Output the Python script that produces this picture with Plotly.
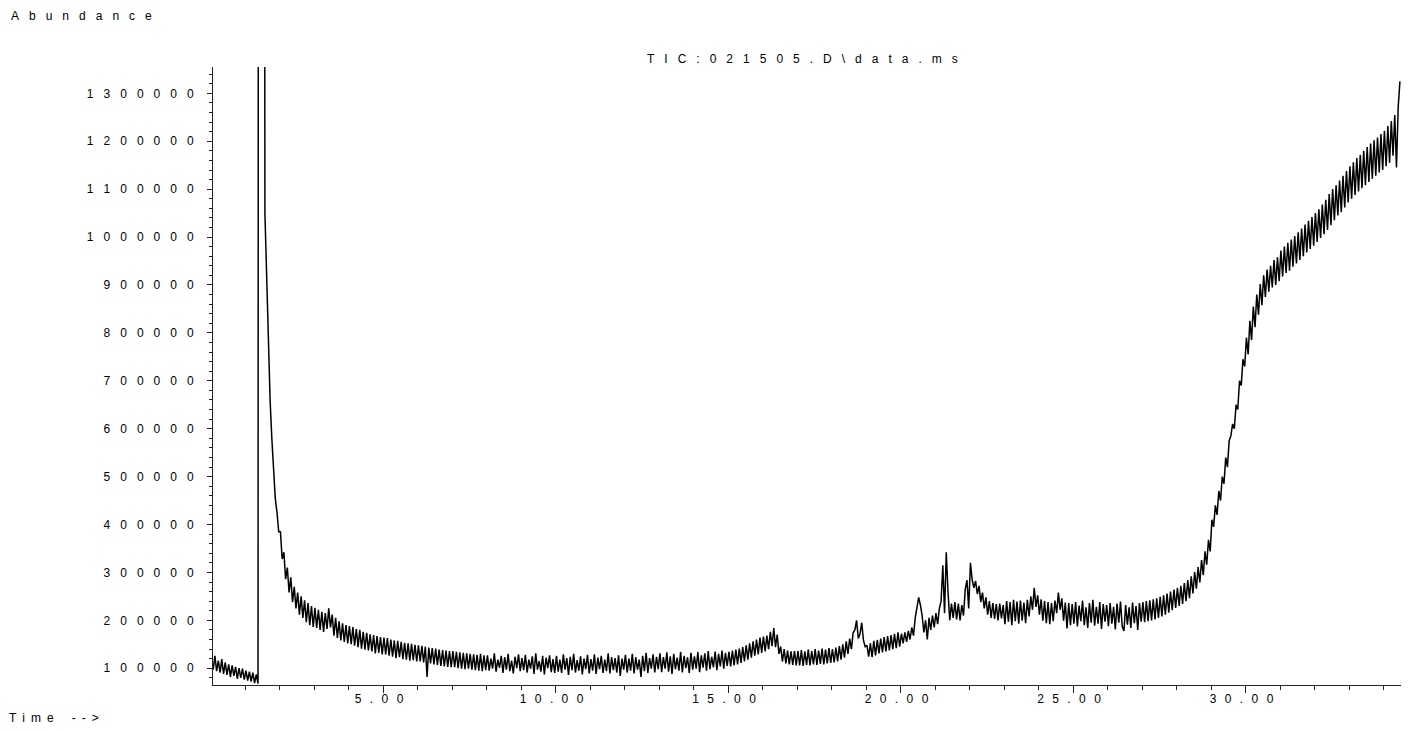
import plotly.graph_objects as go

# ---- data: TIC abundance (in thousands), every 0.05 min from 0.02 min ----
TIME_START = 0.02
TIME_STEP = 0.05
abundance_k = [
    # 0.02 - 0.97
    124, 97, 126, 94, 116, 91, 119, 88, 112, 86,
    108, 82, 106, 84, 103, 78, 100, 80, 99, 76,
    # 1.02 - 1.97
    95, 74, 93, 72, 91, 69, 87, 68, 9000, 9000,
    5000, 1050, 900, 780, 660, 580, 515, 455, 425, 385,
    # 2.02 - 2.97
    385, 328, 342, 286, 310, 258, 290, 238, 270, 225,
    258, 212, 250, 205, 242, 196, 236, 190, 230, 186,
    # 3.02 - 3.97
    226, 184, 222, 180, 218, 176, 215, 182, 225, 185,
    212, 168, 205, 163, 198, 158, 194, 155, 190, 152,
    # 4.02 - 4.97
    188, 150, 186, 147, 182, 144, 180, 141, 176, 139,
    174, 137, 171, 135, 169, 131, 167, 132, 165, 129,
    # 5.02 - 5.97
    164, 129, 163, 126, 160, 124, 158, 121, 157, 123,
    155, 119, 153, 118, 152, 116, 151, 117, 149, 114,
    # 6.02 - 6.97
    148, 114, 147, 112, 145, 82, 143, 110, 142, 108,
    141, 107, 139, 105, 138, 104, 137, 103, 136, 102,
    # 7.02 - 7.97
    136, 102, 134, 100, 133, 99, 132, 98, 131, 99,
    130, 97, 129, 96, 128, 95, 130, 94, 127, 96,
    # 8.02 - 8.97
    127, 95, 120, 99, 131, 93, 118, 101, 126, 90,
    123, 97, 130, 94, 116, 89, 124, 100, 129, 94,
    # 9.02 - 9.97
    121, 96, 128, 91, 118, 99, 125, 88, 131, 97,
    115, 93, 126, 87, 122, 100, 127, 92, 119, 90,
    # 10.02 - 10.97
    126, 93, 118, 90, 129, 97, 121, 86, 124, 96,
    130, 91, 117, 95, 125, 87, 120, 98, 128, 89,
    # 11.02 - 11.97
    119, 95, 129, 88, 122, 98, 126, 90, 118, 94,
    131, 89, 123, 96, 121, 91, 127, 84, 120, 97,
    # 12.02 - 12.97
    128, 91, 120, 95, 130, 89, 123, 97, 118, 82,
    126, 94, 132, 90, 121, 99, 129, 91, 124, 98,
    # 13.02 - 13.97
    131, 92, 123, 99, 133, 93, 125, 88, 130, 98,
    122, 95, 134, 91, 126, 100, 123, 90, 132, 97,
    # 14.02 - 14.97
    125, 99, 134, 92, 127, 101, 131, 95, 136, 98,
    124, 102, 135, 96, 130, 104, 137, 99, 132, 105,
    # 15.02 - 15.97
    134, 104, 137, 106, 139, 108, 141, 111, 144, 114,
    148, 118, 152, 122, 156, 126, 160, 129, 164, 132,
    # 16.02 - 16.97
    166, 135, 168, 140, 176, 146, 184, 144, 170, 130,
    145, 114, 140, 110, 137, 108, 135, 107, 136, 106,
    # 17.02 - 17.97
    136, 106, 138, 105, 135, 107, 139, 106, 136, 108,
    140, 107, 137, 109, 141, 108, 139, 110, 142, 111,
    # 18.02 - 18.97
    140, 112, 143, 114, 146, 118, 150, 122, 156, 130,
    162, 140, 174, 180, 200, 162, 172, 195, 158, 145,
    # 19.02 - 19.97
    148, 124, 152, 123, 157, 127, 159, 131, 162, 133,
    165, 135, 167, 137, 169, 140, 172, 142, 175, 145,
    # 20.02 - 20.97
    172, 152, 175, 155, 178, 160, 185, 168, 205, 225,
    248, 232, 210, 175, 200, 160, 205, 180, 210, 185,
    # 21.02 - 21.97
    215, 192, 225, 240, 315, 215, 342, 260, 200, 235,
    205, 238, 202, 235, 200, 232, 210, 265, 284, 225,
    # 22.02 - 22.97
    320, 285, 268, 282, 255, 272, 238, 258, 225, 248,
    212, 240, 205, 236, 203, 234, 200, 235, 204, 232,
    # 23.02 - 23.97
    192, 240, 197, 238, 190, 243, 198, 239, 193, 241,
    199, 237, 194, 243, 208, 250, 222, 268, 228, 252,
    # 24.02 - 24.97
    212, 244, 199, 240, 194, 238, 192, 236, 198, 241,
    215, 258, 222, 246, 199, 237, 183, 236, 190, 234,
    # 25.02 - 25.97
    193, 238, 187, 231, 198, 241, 190, 227, 184, 236,
    195, 243, 189, 228, 193, 238, 182, 234, 197, 232,
    # 26.02 - 26.97
    188, 236, 193, 228, 181, 235, 195, 239, 187, 178,
    232, 191, 227, 184, 237, 194, 230, 180, 236, 197,
    # 27.02 - 27.97
    238, 196, 240, 198, 242, 200, 244, 202, 246, 205,
    249, 208, 252, 212, 256, 216, 260, 221, 264, 226,
    # 28.02 - 28.97
    268, 230, 272, 234, 278, 240, 284, 246, 292, 256,
    301, 266, 311, 279, 326, 294, 344, 316, 368, 344,
    # 29.02 - 29.97
    410, 395, 440, 420, 470, 450, 500, 485, 540, 520,
    575, 585, 610, 600, 650, 640, 700, 690, 745, 730,
    # 30.02 - 30.97
    790, 755, 825, 785, 855, 812, 880, 838, 902, 858,
    920, 875, 932, 886, 940, 895, 952, 900, 958, 908,
    # 31.02 - 31.97
    972, 918, 980, 925, 988, 930, 995, 938, 1002, 945,
    1010, 952, 1018, 960, 1026, 968, 1034, 975, 1042, 982,
    # 32.02 - 32.97
    1050, 990, 1058, 998, 1068, 1006, 1078, 1015, 1090, 1025,
    1100, 1035, 1108, 1045, 1118, 1052, 1128, 1062, 1138, 1072,
    # 33.02 - 33.97
    1148, 1080, 1156, 1088, 1165, 1095, 1172, 1102, 1180, 1108,
    1188, 1115, 1195, 1122, 1202, 1128, 1208, 1135, 1215, 1140,
    # 34.02 - 34.47
    1222, 1148, 1232, 1155, 1242, 1170, 1255, 1145, 1272, 1325,
]
times = [round(TIME_START + TIME_STEP * i, 2) for i in range(len(abundance_k))]
abundance = [v * 1000 for v in abundance_k]

x_tick_vals = [5, 10, 15, 20, 25, 30]
x_tick_labels = ["5.00", "10.00", "15.00", "20.00", "25.00", "30.00"]
y_tick_vals = [100000 * k for k in range(1, 14)]
y_tick_labels = [str(v) for v in y_tick_vals]

title_text = "TIC: 021505.D\\data.ms"
y_title = "Abundance"
x_title = "Time -->"

FONT = "Liberation Sans, Arial, sans-serif"


def spaced(s, gap, word_gap=None):
    # letter-spaced text: every character separated by `gap`, words by `word_gap`
    if word_gap is None:
        word_gap = gap
    return word_gap.join(gap.join(list(w)) for w in s.split(" "))


GAP_Y = "\u2002\u2004"
GAP_X = "\u2002\u2009"
GAP_T = "\u2002\u2004"

# page has an 8px body margin; plot area wanted at x 213..1402, y 67..685 in the window
OFF = 8
W, H = 1409 - OFF, 731 - OFF
L, R, T, B = 213 - OFF, 7, 67 - OFF, 46
PW, PH = 1189, 618


def px(xp):
    return (xp - 213) / PW


def py(yp):
    return (685 - yp) / PH


fig = go.Figure()
fig.add_trace(go.Scatter(x=times, y=abundance, mode="lines",
                         line=dict(color="black", width=1.5), hoverinfo="x+y",
                         showlegend=False))

fig.update_layout(
    width=W, height=H,
    margin=dict(l=L, r=R, t=T, b=B, pad=0),
    paper_bgcolor="white", plot_bgcolor="white",
    font=dict(family=FONT, size=12, color="black"),
    xaxis=dict(range=[0.065, 34.53], showgrid=False, zeroline=False,
               showline=True, linecolor="#222", linewidth=1,
               ticks="outside", ticklen=7, tickwidth=1, tickcolor="#222",
               tickvals=x_tick_vals,
               ticktext=[spaced(t, GAP_X) + GAP_X for t in x_tick_labels],
               ticklabelstandoff=-4,
               minor=dict(dtick=1, tick0=0, ticks="outside", ticklen=4,
                          tickcolor="#222", showgrid=False),
               tickfont=dict(family=FONT, size=12, color="black")),
    yaxis=dict(range=[65000, 1355000], showgrid=False, zeroline=False,
               showline=True, linecolor="#222", linewidth=1,
               ticks="outside", ticklen=5, tickwidth=1, tickcolor="#222",
               tickvals=y_tick_vals,
               ticktext=[spaced(t, GAP_Y) for t in y_tick_labels],
               ticklabelstandoff=11,
               minor=dict(dtick=20000, tick0=0, ticks="outside", ticklen=3,
                          tickcolor="#222", showgrid=False),
               tickfont=dict(family=FONT, size=12, color="black")),
    annotations=[
        dict(text=spaced(y_title, GAP_Y), xref="paper", yref="paper",
             x=px(9), y=py(16), xanchor="left", yanchor="middle",
             showarrow=False, font=dict(family=FONT, size=12)),
        dict(text=spaced(x_title, "\u2002", "\u2003\u2002"), xref="paper", yref="paper",
             x=px(7), y=py(718), xanchor="left", yanchor="middle",
             showarrow=False, font=dict(family=FONT, size=12)),
        dict(text=spaced(title_text, GAP_T), xref="paper", yref="paper",
             x=px(802), y=py(59), xanchor="center", yanchor="middle",
             showarrow=False, font=dict(family=FONT, size=12)),
    ],
)

fig.write_html("out.html")
